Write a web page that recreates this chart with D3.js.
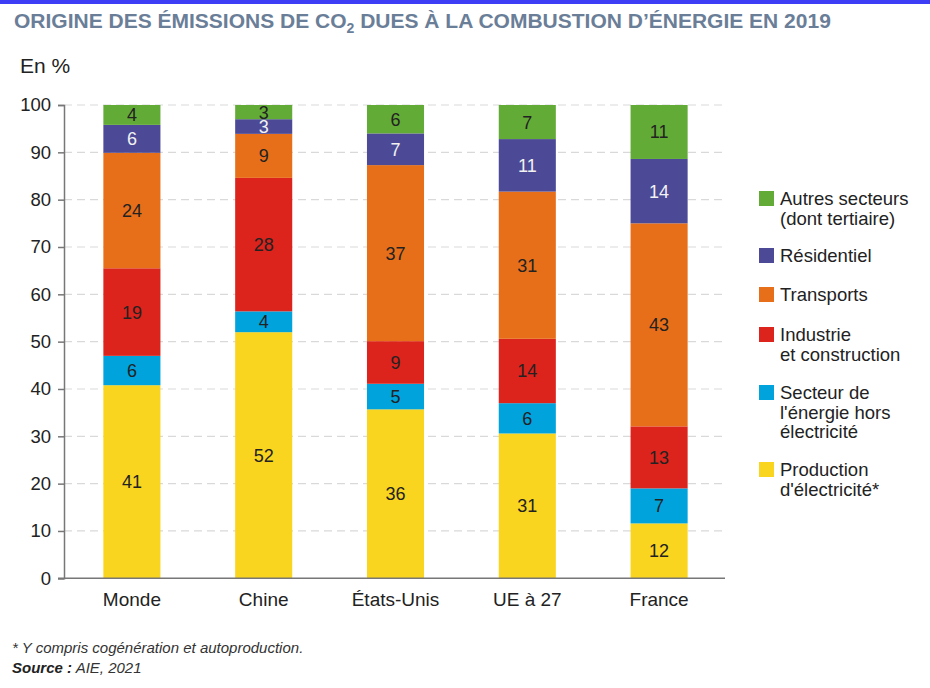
<!DOCTYPE html>
<html>
<head>
<meta charset="utf-8">
<script src="https://cdn.jsdelivr.net/npm/d3@7"></script>
<style>
  html, body { margin: 0; padding: 0; background: #fff; }
  svg { display: block; font-family: "Liberation Sans", Arial, Helvetica, sans-serif; }
</style>
</head>
<body>
<svg id="chart" width="930" height="688"></svg>
<script>
// ---- Data ----
const categories = ["Monde", "Chine", "États-Unis", "UE à 27", "France"];
const seriesNames = ["Production d'électricité*", "Secteur de l'énergie hors électricité", "Industrie et construction", "Transports", "Résidentiel", "Autres secteurs (dont tertiaire)"];
const seriesKeys = ["prod", "energie", "industrie", "transports", "residentiel", "autres"];
const prod        = [40.8, 52.0, 35.7, 30.6, 11.6];
const energie     = [6.2, 4.4, 5.4, 6.4, 7.4];
const industrie   = [18.5, 28.2, 9.0, 13.6, 13.1];
const transports  = [24.4, 9.3, 37.2, 31.1, 42.9];
const residentiel = [5.9, 3.1, 6.7, 11.1, 13.6];
const autres      = [4.2, 3.0, 6.0, 7.2, 11.4];
const yTicks = [0, 10, 20, 30, 40, 50, 60, 70, 80, 90, 100];
const colors = ["#fad51f", "#00a3dc", "#dc231c", "#e86f19", "#4c4a96", "#62ab37"];
const labelColors = ["#222", "#222", "#222", "#222", "#f2f2f2", "#222"];
const legendLines = [
  ["Autres secteurs", "(dont tertiaire)"],
  ["Résidentiel"],
  ["Transports"],
  ["Industrie", "et construction"],
  ["Secteur de", "l'énergie hors", "électricité"],
  ["Production", "d'électricité*"]
];

const seriesArrays = [prod, energie, industrie, transports, residentiel, autres];
const table = categories.map((c, i) => {
  const row = { cat: c };
  seriesKeys.forEach((k, j) => row[k] = seriesArrays[j][i]);
  return row;
});

const svg = d3.select("#chart");

// top blue band
svg.append("rect").attr("x", 0).attr("y", 0).attr("width", 930).attr("height", 4).attr("fill", "#3d3df5");

// title
const title = svg.append("text").attr("x", 14).attr("y", 28)
  .attr("font-family", "'Liberation Sans Narrow', 'Liberation Sans', Arial, sans-serif")
  .attr("font-weight", "bold").attr("font-size", 21).attr("fill", "#6a7e98");
title.append("tspan").text("ORIGINE DES ÉMISSIONS DE CO");
title.append("tspan").attr("font-size", 14).attr("dy", 5).text("2");
title.append("tspan").attr("dy", -5).text(" DUES À LA COMBUSTION D’ÉNERGIE EN 2019");

svg.append("text").attr("x", 20).attr("y", 73).attr("font-size", 21).attr("fill", "#222").text("En %");

// scales
const x = d3.scaleBand().domain(categories).range([66, 725]).paddingInner(0.567).paddingOuter(0.2835);
const y = d3.scaleLinear().domain([0, 100]).range([578.3, 105]);

// gridlines
svg.append("g").selectAll("line").data(yTicks.filter(t => t > 0)).join("line")
  .attr("x1", 64).attr("x2", 725)
  .attr("y1", d => y(d)).attr("y2", d => y(d))
  .attr("stroke", "#d9d9d9").attr("stroke-width", 1.2).attr("stroke-dasharray", "8,5");

// y axis
const yAxis = svg.append("g").attr("transform", "translate(64,0)")
  .call(d3.axisLeft(y).tickValues(yTicks).tickSize(6).tickPadding(7).tickFormat(d3.format("d")));
yAxis.select(".domain").attr("stroke", "#777").attr("stroke-width", 1.5);
yAxis.selectAll(".tick line").attr("stroke", "#777").attr("stroke-width", 1.5);
yAxis.selectAll(".tick text").attr("font-size", 18.5).attr("fill", "#222")
  .attr("font-family", "'Liberation Sans', Arial, sans-serif");

// stacked bars
const stack = d3.stack().keys(seriesKeys)(table);
const layers = svg.append("g").selectAll("g").data(stack).join("g")
  .attr("fill", (d, i) => colors[i]);
layers.selectAll("rect").data(d => d).join("rect")
  .attr("x", d => x(d.data.cat))
  .attr("width", x.bandwidth())
  .attr("y", d => y(d[1]))
  .attr("height", d => y(d[0]) - y(d[1]));

// labels
stack.forEach((layer, i) => {
  svg.append("g").selectAll("text").data(layer).join("text")
    .attr("x", d => x(d.data.cat) + x.bandwidth() / 2)
    .attr("y", d => (y(d[0]) + y(d[1])) / 2)
    .attr("dy", "0.36em")
    .attr("text-anchor", "middle")
    .attr("font-size", 18)
    .attr("fill", labelColors[i])
    .text(d => Math.round(d[1] - d[0]));
});

// x axis
const xAxis = svg.append("g").attr("transform", "translate(0,578.3)")
  .call(d3.axisBottom(x).tickSize(0).tickPadding(14));
xAxis.select(".domain").attr("d", "M58,0H725").attr("stroke", "#777").attr("stroke-width", 1.5);
xAxis.selectAll(".tick text").attr("font-size", 19).attr("fill", "#222")
  .attr("font-family", "'Liberation Sans', Arial, sans-serif");

// legend
const legendTop = [191, 248, 287, 327, 385, 462];
const lg = svg.append("g");
legendLines.forEach((lines, k) => {
  const si = 5 - k;
  lg.append("rect").attr("x", 759).attr("y", legendTop[k]).attr("width", 15).attr("height", 15).attr("fill", colors[si]);
  const t = lg.append("text").attr("x", 780).attr("y", legendTop[k] + 14).attr("font-size", 18.5).attr("fill", "#222");
  lines.forEach((ln, j) => t.append("tspan").attr("x", 780).attr("dy", j === 0 ? 0 : 19.5).text(ln));
});

// footnotes
svg.append("text").attr("x", 12).attr("y", 653).attr("font-size", 15).attr("font-style", "italic").attr("fill", "#333")
  .text("* Y compris cogénération et autoproduction.");
const src = svg.append("text").attr("x", 12).attr("y", 673).attr("font-size", 15).attr("font-style", "italic").attr("fill", "#222");
src.append("tspan").attr("font-weight", "bold").text("Source :");
src.append("tspan").attr("fill", "#333").text(" AIE, 2021");
</script>
</body>
</html>
